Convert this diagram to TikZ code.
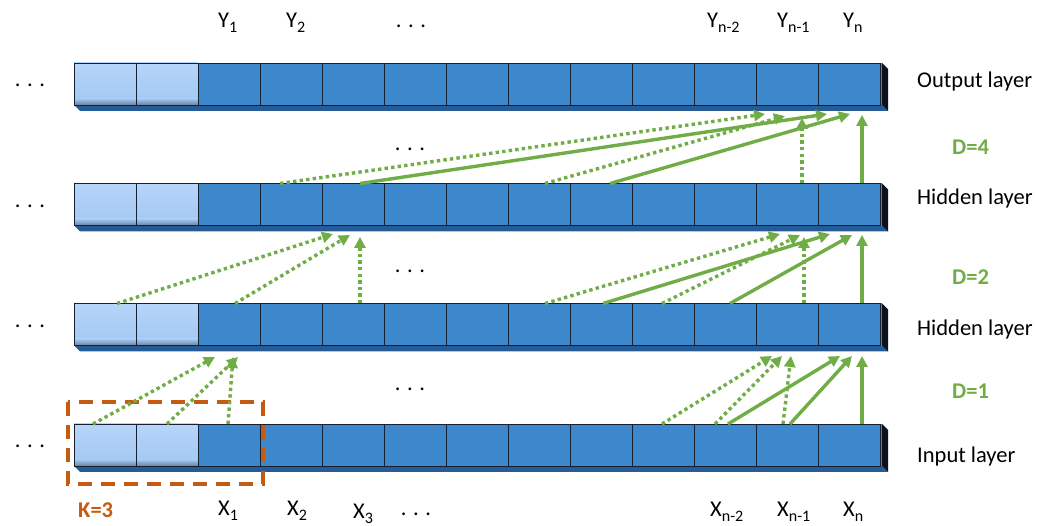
\documentclass[tikz,border=0pt]{standalone}
\usepackage{fontspec}
\setmainfont{Carlito}
\usetikzlibrary{arrows.meta}
\definecolor{cellblue}{RGB}{61,135,205}
\definecolor{lightcell}{RGB}{182,213,250}
\definecolor{lightshade}{RGB}{110,128,158}
\definecolor{basecol}{RGB}{38,92,150}
\definecolor{sidecol}{RGB}{12,18,28}
\definecolor{edgecol}{RGB}{22,32,48}
\definecolor{grn}{RGB}{112,173,71}
\definecolor{kcol}{RGB}{197,90,17}
\newcommand\lsub[1]{\raisebox{-5pt}{\fontsize{16}{16}\selectfont #1}}
\tikzset{
  conn/.style={draw=grn, line width=3.4pt, -{Triangle[length=11pt,width=11pt]}},
  dotconn/.style={conn, dash pattern=on 3.4pt off 3.2pt},
  lbl/.style={font=\fontsize{22.5}{26}\selectfont, inner sep=0pt, anchor=base west},
  dlbl/.style={lbl, font=\fontsize{22.5}{26}\selectfont\bfseries, text=grn},
  klbl/.style={lbl, font=\fontsize{22.5}{26}\selectfont\bfseries, text=kcol},
  dots/.style={lbl, anchor=base},
  kbox/.style={draw=kcol, line width=3.1pt, dash pattern=on 14pt off 9pt},
}
\newcommand\threedots{.\hspace{6.5pt}.\hspace{6.5pt}.}
\begin{document}
\begin{tikzpicture}[x=1pt,y=-1pt]
\useasboundingbox (0,0) rectangle (1037,526);
\fill[white] (0,0) rectangle (1037,526);
% layers
\foreach \T/\nm in {63/out,183.5/hidb,303.5/hida,424/inp}{
  \fill[basecol] (74,\T+42) -- (882,\T+42) -- (888,\T+48) -- (80,\T+48) -- cycle;
  \fill[sidecol] (882,\T) -- (888,\T+6) -- (888,\T+48) -- (882,\T+42) -- cycle;
  \fill[cellblue] (198,\T) rectangle (882,\T+42);
  \shade[top color=lightcell, bottom color=lightcell!85!cellblue] (74,\T) rectangle (198,\T+36);
  \shade[top color=lightcell!85!cellblue, bottom color=lightshade] (74,\T+35.5) rectangle (198,\T+42);
  \foreach \i in {0,...,12}{
     \draw[edgecol, line width=0.8pt] (74+62*\i,\T) rectangle (136+62*\i,\T+42);
  }
  \node[dots] (ld-\nm) at (30,\T+24) {\threedots};
}
% middle dots
\node[dots] (md3) at (410,151) {\threedots};
\node[dots] (md2) at (410,273) {\threedots};
\node[dots] (md1) at (410,391) {\threedots};
% top labels
\node[lbl] (y1) at (218,28) {Y\lsub{1}};
\node[lbl] (y2) at (286,28) {Y\lsub{2}};
\node[dots] (ydots) at (411,28) {\threedots};
\node[lbl] (yn2) at (707,28) {Y\lsub{n-2}};
\node[lbl] (yn1) at (777,28) {Y\lsub{n-1}};
\node[lbl] (yn) at (843,28) {Y\lsub{n}};
% bottom labels
\node[lbl] (x1) at (218,516) {X\lsub{1}};
\node[lbl] (x2) at (287,516) {X\lsub{2}};
\node[lbl] (x3) at (353,519) {X\lsub{3}};
\node[dots] (xdots) at (416,516) {\threedots};
\node[lbl] (xn2) at (710,517) {X\lsub{n-2}};
\node[lbl] (xn1) at (777,517) {X\lsub{n-1}};
\node[lbl] (xn) at (843,517) {X\lsub{n}};
% right labels
\node[lbl] (lout) at (917,88) {Output layer};
\node[lbl] (lhb) at (917,205) {Hidden layer};
\node[lbl] (lha) at (917,336) {Hidden layer};
\node[lbl] (lin) at (917,463) {Input layer};
\node[dlbl] (d4) at (952,155) {D=4};
\node[dlbl] (d2) at (952,285) {D=2};
\node[dlbl] (d1) at (952,399) {D=1};
% kernel box
\node[klbl] (k3) at (78,518) {K=3};
\coordinate (kb1) at (68,402);
\coordinate (kb2) at (263,484);
\draw[kbox] (kb1) rectangle (kb2);
% connections
\foreach \s/\a/\b/\c/\d [count=\i] in {
  dotconn/93/424/215/357, dotconn/167/424/238/357, dotconn/228/424/233/357,
  dotconn/662/424/772/356, dotconn/715/424/782/356, dotconn/783/424/791/356,
  conn/728/424/840/356, conn/790/424/852/356, conn/862/424/862/356,
  dotconn/117/303.5/333/234, dotconn/235/303.5/350/235, dotconn/360/303.5/360/237,
  dotconn/545/303.5/780/234, dotconn/662/303.5/800/235,
  conn/603/303.5/830/234, conn/730/303.5/852/235,
  dotconn/804/303.5/804/237, conn/862/303.5/862/235,
  dotconn/280/183.5/765/114, conn/360/183.5/827/114,
  dotconn/545/183.5/785/116, conn/610/183.5/850/114,
  dotconn/802/183.5/802/118, conn/862/183.5/862/115}{
  \coordinate (s\i) at (\a,\b);
  \coordinate (t\i) at (\c,\d);
  \draw[\s] (s\i) -- (t\i);
}
\end{tikzpicture}
\end{document}
